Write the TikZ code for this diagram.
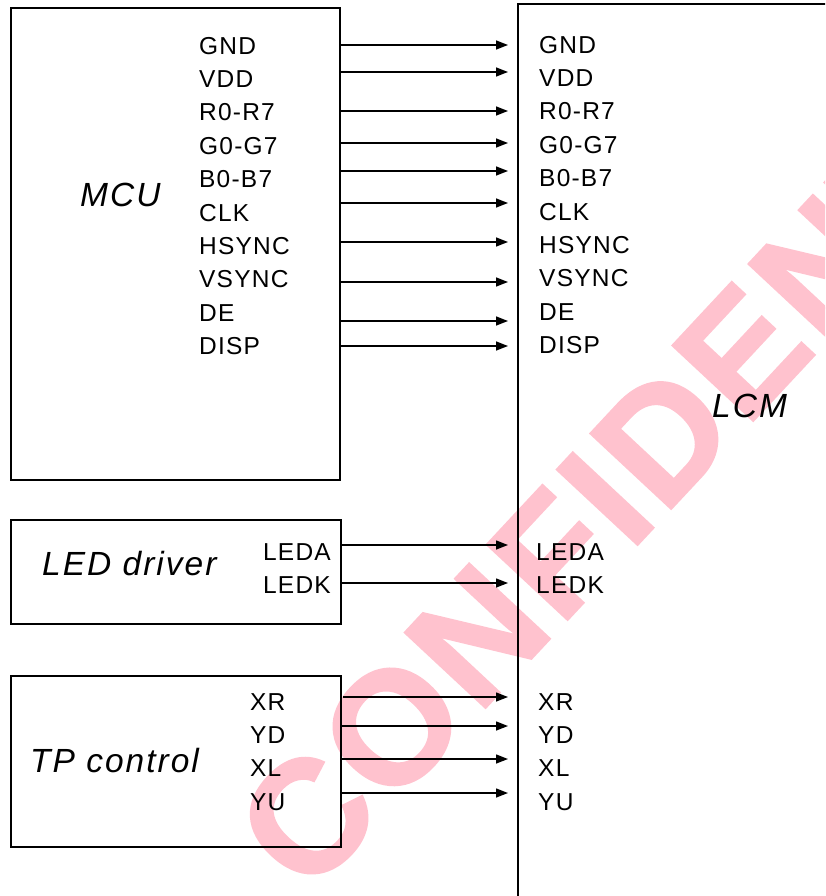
\documentclass[tikz,border=0pt]{standalone}
\usepackage{fontspec}
\setmainfont{Liberation Sans}
\newfontfamily\lblfont[LetterSpace=5]{Liberation Sans}
\newfontfamily\ttlfont[LetterSpace=6]{Liberation Sans}
\newfontfamily\wmfont[BoldFeatures={FakeBold=1.5}, LetterSpace=3]{Liberation Sans}
\usetikzlibrary{arrows.meta}
\definecolor{wmpink}{RGB}{255,194,206}
\begin{document}
\begin{tikzpicture}[x=1pt,y=-1pt,
  box/.style={draw, line width=1.8pt, inner sep=0pt, anchor=north west},
  sig/.style={font=\lblfont\fontsize{24.5}{25}\selectfont, inner sep=0pt, anchor=west},
  sigr/.style={sig, anchor=east},
  ttl/.style={font=\ttlfont\itshape\fontsize{33.5}{34}\selectfont, inner sep=0pt, anchor=base west},
  wire/.style={line width=1.4pt, -{Triangle[length=12pt,width=9pt]}},
  wmark/.style={font=\wmfont\bfseries\fontsize{160}{160}\selectfont, text=wmpink, inner sep=0pt, anchor=base west, rotate=47}]
\useasboundingbox (0,0) rectangle (825,896);
\clip (0,0) rectangle (825,896);
% watermark
\node[wmark] (wm) at (308,898) {CONFIDENTIAL};
% boxes
\node[box, minimum width=329pt, minimum height=472pt] (mcu) at (10,7) {};
\node[box, minimum width=330pt, minimum height=104pt] (led) at (10,519) {};
\node[box, minimum width=330pt, minimum height=171pt] (tp) at (10,675) {};
\node[box, minimum width=400pt, minimum height=1000pt] (lcm) at (517,3) {};
% titles
\node[ttl] (tmcu) at (80,207) {MCU};
\node[ttl] (tled) at (42,575) {LED driver};
\node[ttl] (ttp) at (30,772) {TP control};
\node[ttl] (tlcm) at (712,417) {LCM};
% MCU signals
\foreach \nm/\ya/\yl/\yr [count=\i] in {GND/45/46/45, VDD/72/79/78, R0-R7/111/112/111, G0-G7/143/146/145, B0-B7/171/179/178, CLK/203/213/212, HSYNC/242/246/245, VSYNC/282/279/278, DE/321/313/312, DISP/346/346/345}{
  \node[sig] (m\i) at (199,\yl) {\nm};
  \node[sig] (l\i) at (539,\yr) {\nm};
  \coordinate (ms\i) at (339,\ya);
  \coordinate (me\i) at (508,\ya);
  \draw[wire] (ms\i) -- (me\i);
}
% LED signals
\foreach \nm/\ya/\yl [count=\i] in {LEDA/545/552, LEDK/583/585}{
  \node[sigr] (d\i) at (331,\yl) {\nm};
  \node[sig] (dl\i) at (536,\yl) {\nm};
  \coordinate (ds\i) at (340,\ya);
  \coordinate (de\i) at (508,\ya);
  \draw[wire] (ds\i) -- (de\i);
}
% TP signals
\foreach \nm/\ya/\yl/\xs [count=\i] in {XR/697/702/343, YD/726/735/340, XL/759/768/340, YU/793/802/340}{
  \node[sig] (t\i) at (250,\yl) {\nm};
  \node[sig] (tl\i) at (538,\yl) {\nm};
  \coordinate (ts\i) at (\xs,\ya);
  \coordinate (te\i) at (508,\ya);
  \draw[wire] (ts\i) -- (te\i);
}
\end{tikzpicture}
\end{document}
